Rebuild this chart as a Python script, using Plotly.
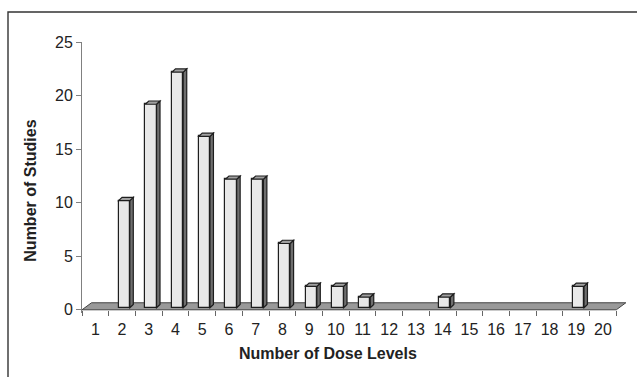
import plotly.graph_objects as go

# ---- data ----
dose_levels = list(range(1, 21))
tick_labels = [str(d) for d in dose_levels]
num_studies = [0, 10, 19, 22, 16, 12, 12, 6, 2, 2, 1, 0, 0, 1, 0, 0, 0, 0, 2, 0]
y_ticks = [0, 5, 10, 15, 20, 25]

# ---- 3D look parameters (in axis units) ----
BAR_OFF = 0.08      # bar shift into depth (x)
BAR_BASE = 0.19     # bar shift into depth (y)
BAR_W = 0.42
DX, DY = 0.13, 0.30         # bar depth
FDX, FDY = 0.356, 0.654     # floor depth

W, H = 637, 377
L, R, T, B = 82, 10, 42, 64
XR = [0.5, 20.9]
YR = [-0.3, 25]
pw = W - L - R
ph = H - T - B
FONT = "Liberation Sans, Arial, Helvetica"


def px_x(p):
    return (p - L) / pw


def px_y(p):
    return (H - B - p) / ph


fig = go.Figure()

xs = [d + BAR_OFF for d, v in zip(dose_levels, num_studies) if v > 0]
vs = [v for v in num_studies if v > 0]

fig.add_trace(go.Bar(
    x=xs, y=vs, base=BAR_BASE, width=BAR_W,
    marker=dict(color="#e8e8e8", line=dict(color="#1e1e1e", width=1.2)),
    hoverinfo="skip", showlegend=False,
))

shapes = []
# floor
x0f, x1f = dose_levels[0] - 0.5, dose_levels[-1] + 0.5
shapes.append(dict(
    type="path", xref="x", yref="y", layer="below",
    path=f"M {x0f} 0 L {x1f} 0 L {x1f + FDX} {FDY} L {x0f + FDX} {FDY} Z",
    fillcolor="#999999", line=dict(color="#444444", width=1),
))

for x, v in zip(xs, vs):
    a = x - BAR_W / 2
    b = x + BAR_W / 2
    bot = BAR_BASE
    top = BAR_BASE + v
    # side face
    shapes.append(dict(
        type="path", xref="x", yref="y",
        path=f"M {b} {bot} L {b + DX} {bot + DY} L {b + DX} {top + DY} L {b} {top} Z",
        fillcolor="#6e6e6e", line=dict(color="#1e1e1e", width=1.2),
    ))
    # top face
    shapes.append(dict(
        type="path", xref="x", yref="y",
        path=f"M {a} {top} L {b} {top} L {b + DX} {top + DY} L {a + DX} {top + DY} Z",
        fillcolor="#a0a0a0", line=dict(color="#1e1e1e", width=1.2),
    ))

# outer border (top and left only, as in the cropped original)
shapes.append(dict(
    type="path", xref="paper", yref="paper",
    path=f"M {px_x(8)} {px_y(380)} L {px_x(8)} {px_y(12)} L {px_x(640)} {px_y(12)}",
    line=dict(color="#333333", width=1.4),
))

annotations = [
    dict(text="<b>Number of Dose Levels</b>", xref="paper", yref="paper",
         x=px_x(328), y=px_y(353), xanchor="center", yanchor="middle",
         showarrow=False, font=dict(family=FONT, size=16, color="#222222")),
    dict(text="<b>Number of Studies</b>", xref="paper", yref="paper",
         x=px_x(31), y=px_y(190.7), xanchor="center", yanchor="middle", textangle=-90,
         showarrow=False, font=dict(family=FONT, size=16, color="#222222")),
]

fig.update_layout(
    width=W, height=H,
    margin=dict(l=L, r=R, t=T, b=B, pad=0),
    paper_bgcolor="white", plot_bgcolor="white",
    shapes=shapes, annotations=annotations,
    font=dict(family=FONT, size=16, color="#222222"),
    bargap=0,
    xaxis=dict(
        range=XR, showgrid=False, zeroline=False, showline=False,
        tickmode="array", tickvals=dose_levels, ticktext=tick_labels,
        ticks="outside", ticklen=5, tickcolor="rgba(0,0,0,0)",
        anchor="free", position=(0 - YR[0]) / (YR[1] - YR[0]),
        minor=dict(tickmode="array",
                   tickvals=[d - 0.5 for d in dose_levels] + [dose_levels[-1] + 0.5],
                   ticks="outside", ticklen=5, tickcolor="#666666", tickwidth=1,
                   showgrid=False),
        tickfont=dict(family=FONT, size=16, color="#222222"),
    ),
    yaxis=dict(
        range=YR, showgrid=False, zeroline=False, showline=True,
        linecolor="#808080", linewidth=1,
        tickmode="array", tickvals=y_ticks,
        ticks="outside", ticklen=5, tickcolor="#808080",
        tickfont=dict(family=FONT, size=16, color="#222222"),
    ),
)

fig.write_html("out.html")
